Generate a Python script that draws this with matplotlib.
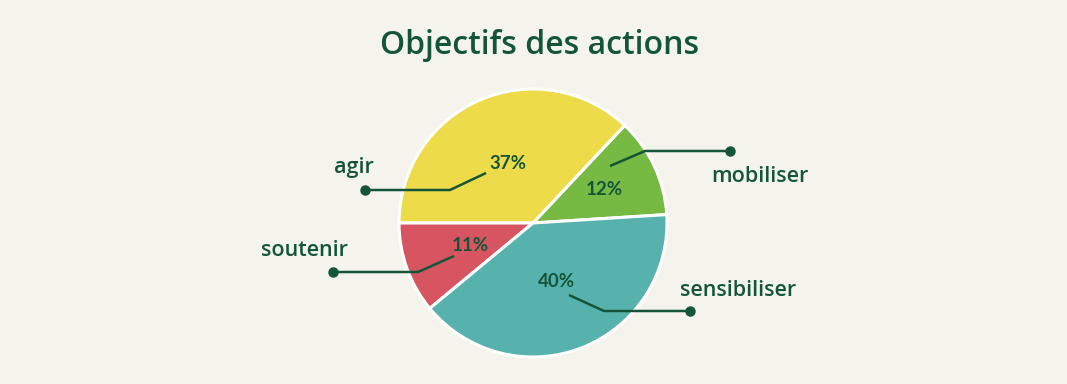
import matplotlib
matplotlib.use("Agg")
import matplotlib.pyplot as plt
import numpy as np

categories = ["mobiliser", "agir", "soutenir", "sensibiliser"]
values = [12, 37, 11, 40]
pct_labels = ["12%", "37%", "11%", "40%"]
colors = ["#76B943", "#EEDB4A", "#D65560", "#57B2AE"]

BG = "#F4F3EC"
DARK = "#14553A"
W, H = 1067, 384
FONT = "Open Sans"

fig = plt.figure(figsize=(W / 100, H / 100), dpi=100, facecolor=BG)
ax = fig.add_axes([0, 0, 1, 1])
ax.set_facecolor(BG)

cx, cy, R = 533, H - 223, 134
wedges, _ = ax.pie(values, colors=colors, startangle=3.6, counterclock=True,
                   center=(cx, cy), radius=R, frame=True,
                   wedgeprops=dict(edgecolor="white", linewidth=2.2))
ax.set_xlim(0, W)
ax.set_ylim(0, H)
ax.set_aspect("equal")
ax.axis("off")

# percentage labels along wedge mid-angles
frac = [0.59, 0.48, 0.50, 0.47]
for w, lab, f in zip(wedges, pct_labels, frac):
    ang = np.deg2rad((w.theta1 + w.theta2) / 2)
    ax.text(cx + f * R * np.cos(ang), cy + f * R * np.sin(ang), lab,
            ha="center", va="center", fontsize=13.5, fontweight="bold",
            fontstyle="normal", color=DARK, family="Lato")

# leader lines (pixel layout: dot, elbow, inner end) and category labels
leaders = {
    "mobiliser": ((730, 151), (645, 151), (610, 166), (760, 177)),
    "agir": ((365, 190), (450, 190), (486, 173), (354, 168)),
    "soutenir": ((333, 272), (418, 272), (454, 256), (304, 250)),
    "sensibiliser": ((690, 311), (604, 311), (569, 295), (738, 291)),
}
for name in categories:
    dot, elbow, inner, lab = leaders[name]
    xs = [dot[0], elbow[0], inner[0]]
    ys = [H - dot[1], H - elbow[1], H - inner[1]]
    ax.plot(xs, ys, color=DARK, lw=1.8, solid_capstyle="butt", zorder=5)
    ax.plot([dot[0]], [H - dot[1]], "o", color=DARK, ms=6.5, zorder=6)
    ax.text(lab[0], H - lab[1], name, ha="center", va="center",
            fontsize=15.5, color=DARK, family=FONT, fontweight="semibold")

ax.text(W / 2 + 6, H - 46, "Objectifs des actions", ha="center", va="center",
        fontsize=23, fontweight="semibold", color=DARK, family=FONT)

fig.savefig("out.png", dpi=100, facecolor=BG)
